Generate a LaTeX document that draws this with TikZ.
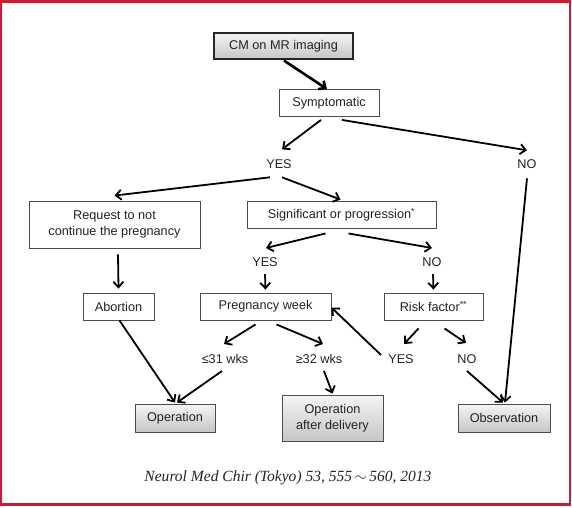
\documentclass[tikz,border=0pt]{standalone}
\usepackage{fontspec}
\setmainfont{Liberation Sans}
\newfontfamily\citefont{Liberation Serif}
\usetikzlibrary{arrows.meta,calc}
\definecolor{framered}{RGB}{200,28,48}
\definecolor{txt}{RGB}{35,35,35}
\tikzset{
  box/.style={draw=black!70, line width=0.9pt, fill=white, inner sep=0pt, align=center,
    text=txt, font=\fontsize{12.7}{16}\selectfont},
  graybox/.style={box, top color=gray!8, bottom color=gray!45},
  lbl/.style={inner sep=0pt, text=txt, font=\fontsize{12.7}{15}\selectfont},
  conn/.style={line width=1.8pt, -{Straight Barb[length=5.5pt,width=10pt]}},
}
\begin{document}
\begin{tikzpicture}[x=1pt,y=-1pt]
\useasboundingbox (0,0) rectangle (572,507);
\draw[framered, line width=2.2pt] (1.2,1.5) rectangle (570,504.5);

% boxes
\node[graybox, minimum width=139pt, minimum height=26pt, line width=1.2pt, draw=black!85] (cm) at (283.5,46) {CM on MR imaging};
\node[box, minimum width=100pt, minimum height=27pt] (sym) at (329,103) {Symptomatic};
\node[box, minimum width=171pt, minimum height=47pt] (req) at (114.5,224.5) {Request to not\\continue the pregnancy};
\node[box, minimum width=189pt, minimum height=27pt] (sig) at (341.5,214.5) {Significant or progression\textsuperscript{*}};
\node[box, minimum width=71pt, minimum height=27pt] (abort) at (118.5,306.5) {Abortion};
\node[box, minimum width=131pt, minimum height=27pt] (preg) at (265.5,306.5) {Pregnancy week};
\node[box, minimum width=99pt, minimum height=27pt] (risk) at (433.5,306.5) {Risk factor\textsuperscript{**}};
\node[graybox, minimum width=80pt, minimum height=28pt] (op) at (175,418) {Operation};
\node[graybox, minimum width=101pt, minimum height=46pt, font=\fontsize{12.7}{15.5}\selectfont] (opd) at (332.5,418) {Operation\\after delivery};
\node[graybox, minimum width=92pt, minimum height=28pt] (obs) at (504,418) {Observation};

% labels
\node[lbl] (yes1) at (279,164.3) {YES};
\node[lbl] (no1) at (527,164.3) {NO};
\node[lbl] (yes2) at (265,262) {YES};
\node[lbl] (no2) at (432,262) {NO};
\node[lbl] (le31) at (225,359) {≤31 wks};
\node[lbl] (ge32) at (319,359) {≥32 wks};
\node[lbl] (yes3) at (401,359) {YES};
\node[lbl] (no3) at (467,359) {NO};

\node[inner sep=0pt, text=txt] (cite) at (288,478)
  {\resizebox{287pt}{!}{\citefont\itshape Neurol Med Chir (Tokyo) 53, 555\,$\sim$\,560, 2013}};

% connectors
\draw[conn, line width=2.6pt] ($(cm.south)+(0.5,1)$) -- ($(sym.north)+(-2,0)$);
\draw[conn] ($(sym.south)+(-8,3)$) -- ($(yes1)+(3,-15)$);
\draw[conn] ($(sym.south)+(13,3)$) -- ($(no1)+(0,-14)$);
\draw[conn] ($(yes1)+(-9,13)$) -- ($(req.north)+(0,-5)$);
\draw[conn] ($(yes1)+(3,13)$) -- ($(sig.north)+(-1,-1)$);
\draw[conn] ($(req.south)+(3.5,6)$) -- ($(abort.north)+(0,-4)$);
\draw[conn] ($(sig.south)+(-16,5)$) -- ($(yes2)+(1,-14)$);
\draw[conn] ($(sig.south)+(7,5)$) -- ($(no2)+(0,-14)$);
\draw[conn] ($(yes2)+(0,12)$) -- ($(preg.north)+(0,-3)$);
\draw[conn] ($(no2)+(1,12)$) -- ($(risk.north)+(0,-3)$);
\draw[conn] ($(abort.south)+(1,0)$) -- ($(op.north)+(0,-1)$);
\draw[conn] ($(preg.south)+(-10,4)$) -- ($(le31)+(-1,-15)$);
\draw[conn] ($(preg.south)+(11,4)$) -- ($(ge32)+(4,-15)$);
\draw[conn] ($(le31)+(-3,12)$) -- ($(op.north)+(2,-1)$);
\draw[conn] ($(ge32)+(5,12)$) -- ($(opd.north)+(0,-1)$);
\draw[conn] ($(yes3)+(-20,-4)$) -- ($(preg.east)+(0,1)$);
\draw[conn] ($(risk.south)+(-15,8)$) -- ($(yes3)+(3,-15)$);
\draw[conn] ($(risk.south)+(11,8)$) -- ($(no3)+(-1,-16)$);
\draw[conn] ($(no3)+(0,12)$) -- ($(obs.north)+(-1,-1)$);
\draw[conn] ($(no1)+(0,14)$) -- ($(obs.north)+(1,-1)$);
\end{tikzpicture}
\end{document}
